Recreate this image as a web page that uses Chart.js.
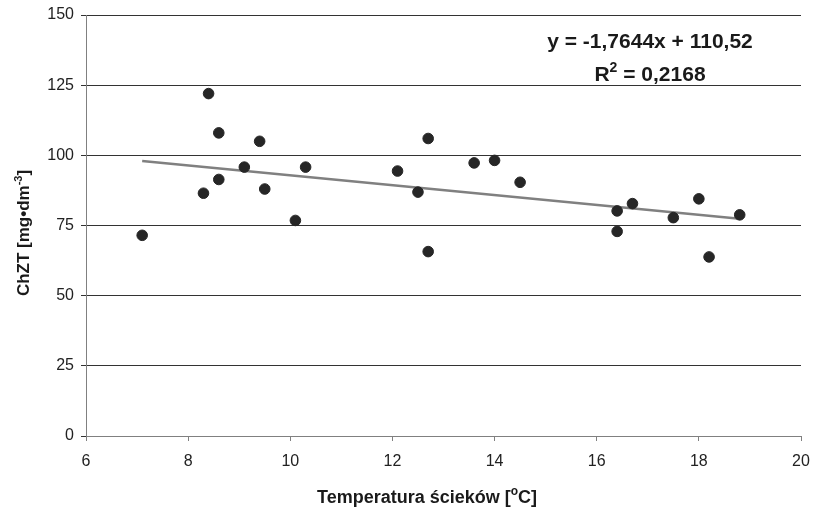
<!DOCTYPE html>
<html>
<head>
<meta charset="utf-8">
<script src="https://cdn.jsdelivr.net/npm/chart.js@4/dist/chart.umd.min.js"></script>
<style>
  html, body { margin: 0; padding: 0; background: #fff; }
  #wrap { width: 815px; height: 508px; }
</style>
</head>
<body>
<div id="wrap"><canvas id="chart" width="815" height="508"></canvas></div>
<script>
// ==================== Data ====================
const tempX = [7.1, 8.3, 8.4, 8.6, 8.6, 9.1, 9.4, 9.5, 10.1, 10.3,
               12.1, 12.5, 12.7, 12.7, 13.6, 14.0, 14.5,
               16.4, 16.4, 16.7, 17.5, 18.0, 18.2, 18.8];
const chztY = [71.5, 86.5, 122, 108, 91.4, 95.8, 105, 88, 76.8, 95.8,
               94.4, 86.9, 106, 65.7, 97.3, 98.2, 90.4,
               80.2, 72.9, 82.8, 77.8, 84.5, 63.8, 78.8];
const trendX = [7.1, 18.8];
const trendY = [98.0, 77.4];
const xTicks = [6, 8, 10, 12, 14, 16, 18, 20];
const yTicks = [0, 25, 50, 75, 100, 125, 150];

const FONT = '"Liberation Sans", Arial, sans-serif';

// draw text made of parts, some raised as superscript
function drawParts(ctx, parts, size, cx, cy) {
    const small = Math.round(size * 0.65);
    let w = 0;
    parts.forEach(p => {
        ctx.font = `bold ${p.sup ? small : size}px ${FONT}`;
        p.w = ctx.measureText(p.t).width;
        w += p.w;
    });
    let x = cx - w / 2;
    ctx.textAlign = 'left';
    ctx.textBaseline = 'alphabetic';
    parts.forEach(p => {
        ctx.font = `bold ${p.sup ? small : size}px ${FONT}`;
        ctx.fillText(p.t, x, p.sup ? cy - size * 0.42 : cy);
        x += p.w;
    });
}

const labelsPlugin = {
    id: 'labels',
    afterDraw(chart) {
        const ctx = chart.ctx;
        ctx.save();
        ctx.fillStyle = '#1a1a1a';
        // equation + R2
        drawParts(ctx, [{ t: 'y = -1,7644x + 110,52' }], 21, 650, 48);
        drawParts(ctx, [{ t: 'R' }, { t: '2', sup: true }, { t: ' = 0,2168' }], 21, 650, 81);
        // x title
        drawParts(ctx, [{ t: 'Temperatura ścieków [' }, { t: 'o', sup: true }, { t: 'C]' }], 18, 427, 503);
        // y title
        ctx.translate(29, 233);
        ctx.rotate(-Math.PI / 2);
        drawParts(ctx, [{ t: 'ChZT [mg•dm' }, { t: '-3', sup: true }, { t: ']' }], 17, 0, 0);
        ctx.restore();
    }
};

new Chart(document.getElementById('chart').getContext('2d'), {
    type: 'scatter',
    data: {
        datasets: [
            {
                label: 'ChZT',
                data: tempX.map((x, i) => ({ x, y: chztY[i] })),
                backgroundColor: '#262626',
                borderColor: '#262626',
                pointRadius: 5.3,
                pointHoverRadius: 5.3,
                order: 1
            },
            {
                label: 'trend',
                type: 'line',
                data: trendX.map((x, i) => ({ x, y: trendY[i] })),
                borderColor: '#808080',
                borderWidth: 2.5,
                pointRadius: 0,
                fill: false,
                order: 2
            }
        ]
    },
    options: {
        responsive: false,
        animation: false,
        layout: { padding: { left: 0, right: 14, top: 15, bottom: 0 } },
        plugins: { legend: { display: false }, tooltip: { enabled: false } },
        scales: {
            x: {
                type: 'linear', min: 6, max: 20,
                afterBuildTicks: s => { s.ticks = xTicks.map(v => ({ value: v })); },
                afterFit: s => { s.height = 72; s.paddingLeft = 0; s.paddingRight = 0; },
                grid: { drawOnChartArea: false, drawTicks: true, tickLength: 5, color: '#808080' },
                border: { color: '#808080', width: 1 },
                ticks: { color: '#222', font: { family: FONT, size: 16 }, padding: 11, maxRotation: 0 }
            },
            y: {
                type: 'linear', min: 0, max: 150,
                afterBuildTicks: s => { s.ticks = yTicks.map(v => ({ value: v })); },
                afterFit: s => { s.width = 86; s.paddingTop = 0; s.paddingBottom = 0; },
                grid: { color: '#333', lineWidth: 1, drawTicks: true, tickLength: 5 },
                border: { color: '#808080', width: 1 },
                ticks: { color: '#222', font: { family: FONT, size: 16 }, padding: 7 }
            }
        }
    },
    plugins: [labelsPlugin]
});
</script>
</body>
</html>
